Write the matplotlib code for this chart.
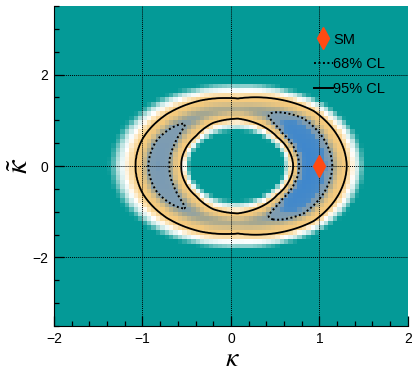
import numpy as np
import matplotlib.pyplot as plt
from matplotlib.colors import LinearSegmentedColormap, Normalize
from matplotlib.lines import Line2D
from matplotlib.ticker import MultipleLocator

plt.rcParams['font.family'] = ['Liberation Sans', 'DejaVu Sans']
plt.rcParams['mathtext.fontset'] = 'stix'

# binning of the scan
kappa_edges = np.linspace(-2, 2, 81)
kappat_edges = np.linspace(-3.5, 3.5, 71)

# valley of the likelihood: centre and semi-axes
ring_x0 = 0.08
ring_a = 0.89
ring_b = 1.25

# profile across the valley, read at these angles (deg), radii in ring units
phi_deg = [0, 22.5, 45, 67.5, 90, 112.5, 135, 157.5, 180]
r_in_edge = [0.57, 0.58, 0.58, 0.59, 0.60, 0.60, 0.60, 0.61, 0.61]
r_in95 = [0.70, 0.70, 0.71, 0.77, 0.83, 0.82, 0.75, 0.73, 0.72]
r_best = [0.90, 0.90, 0.93, 0.98, 1.00, 1.00, 1.00, 1.00, 1.00]
r_out95 = [1.38, 1.37, 1.36, 1.27, 1.18, 1.24, 1.28, 1.30, 1.30]
r_out_edge = [1.62, 1.61, 1.57, 1.50, 1.48, 1.50, 1.58, 1.63, 1.65]
q_best = [0.0, 0.1, 0.5, 2.4, 2.9, 2.7, 2.25, 1.5, 1.3]

sm_point = (1.0, 0.0)
cl_68 = 2.30
cl_95 = 5.99
q_top = 10.0

palette = ['#3f87cc', '#4a8bc6', '#7b9bb3', '#809db0', '#a8a88f', '#d4bd88',
           '#f4c97c', '#f6cc80', '#fce3b4', '#ffffff', '#bfe4e1', '#3fb0ac', '#049a97']
palette_pos = [0.0, 0.115, 0.135, 0.22, 0.27, 0.34, 0.45, 0.60, 0.68, 0.75, 0.84, 0.93, 1.0]


def along_phi(vals, phi):
    return np.interp(phi, np.radians(phi_deg), vals)


def nll(k, kt):
    x = (k - ring_x0) / ring_a
    y = kt / ring_b
    rho = np.hypot(x, y)
    phi = np.arctan2(np.abs(y), x)
    qb = along_phi(q_best, phi)
    s95 = np.sqrt(cl_95 - qb)
    se = np.sqrt(q_top - qb)
    rs = [0 * rho, along_phi(r_in_edge, phi), along_phi(r_in95, phi), along_phi(r_best, phi),
          along_phi(r_out95, phi), along_phi(r_out_edge, phi), 0 * rho + 5]
    ss = [-3 * se, -se, -s95, 0 * rho, s95, se, 3 * se]
    s = 3 * se
    for i in range(len(rs) - 2, -1, -1):
        t = (rho - rs[i]) / (rs[i + 1] - rs[i])
        s = np.where((rho >= rs[i]) & (rho < rs[i + 1]), ss[i] + t * (ss[i + 1] - ss[i]), s)
    return qb + s ** 2


cmap = LinearSegmentedColormap.from_list('nll', list(zip(palette_pos, palette)))

fig = plt.figure(figsize=(4.12, 3.71), dpi=100)
ax = fig.add_axes([0.131, 0.1213, 0.859, 0.8625])

kc = 0.5 * (kappa_edges[1:] + kappa_edges[:-1])
ktc = 0.5 * (kappat_edges[1:] + kappat_edges[:-1])
KC, KTC = np.meshgrid(kc, ktc)
ax.pcolormesh(kappa_edges, kappat_edges, nll(KC, KTC), cmap=cmap,
              norm=Normalize(0, q_top), zorder=1)

kf = np.linspace(-2, 2, 500)
ktf = np.linspace(-3.5, 3.5, 700)
KF, KTF = np.meshgrid(kf, ktf)
QF = nll(KF, KTF)
ax.contour(KF, KTF, QF, levels=[cl_68], colors='k', linewidths=1.4,
           linestyles=[(0, (1, 1.3))], zorder=3)
ax.contour(KF, KTF, QF, levels=[cl_95], colors='k', linewidths=1.3, zorder=3)

ax.plot(*sm_point, marker='d', ms=11, color='#ff4a12', ls='none', zorder=5)

ax.set_xlim(-2, 2)
ax.set_ylim(-3.5, 3.5)
ax.xaxis.set_major_locator(MultipleLocator(1))
ax.xaxis.set_minor_locator(MultipleLocator(0.2))
ax.yaxis.set_major_locator(MultipleLocator(2))
ax.yaxis.set_minor_locator(MultipleLocator(0.5))
ax.tick_params(which='both', direction='in', top=False, right=False, labelsize=10, pad=4)
ax.tick_params(which='major', length=7, width=0.9)
ax.tick_params(which='minor', length=3.5, width=0.9)
ax.grid(True, which='major', color='k', ls=(0, (1, 1)), lw=0.7)
ax.set_axisbelow(False)
for side in ['top', 'right']:
    ax.spines[side].set_visible(False)

handles = [Line2D([], [], marker='d', ms=11, color='#ff4a12', ls='none'),
           Line2D([], [], color='k', lw=1.4, ls=(0, (1, 1.3))),
           Line2D([], [], color='k', lw=1.4)]
ax.legend(handles, ['SM', '68% CL', '95% CL'], loc='upper left',
          bbox_to_anchor=(0.713, 0.94), frameon=False, fontsize=10.5,
          handlelength=1.3, handletextpad=0.05, labelspacing=0.75, borderpad=0)

fig.text(232 / 412, 1 - 366 / 371, r'$\kappa$', fontsize=20, ha='center', va='baseline')
fig.text(20 / 412, 1 - 166 / 371, r'$\tilde{\kappa}$', fontsize=22, ha='center',
         va='center', rotation=90)

fig.savefig('out.png', dpi=100)
